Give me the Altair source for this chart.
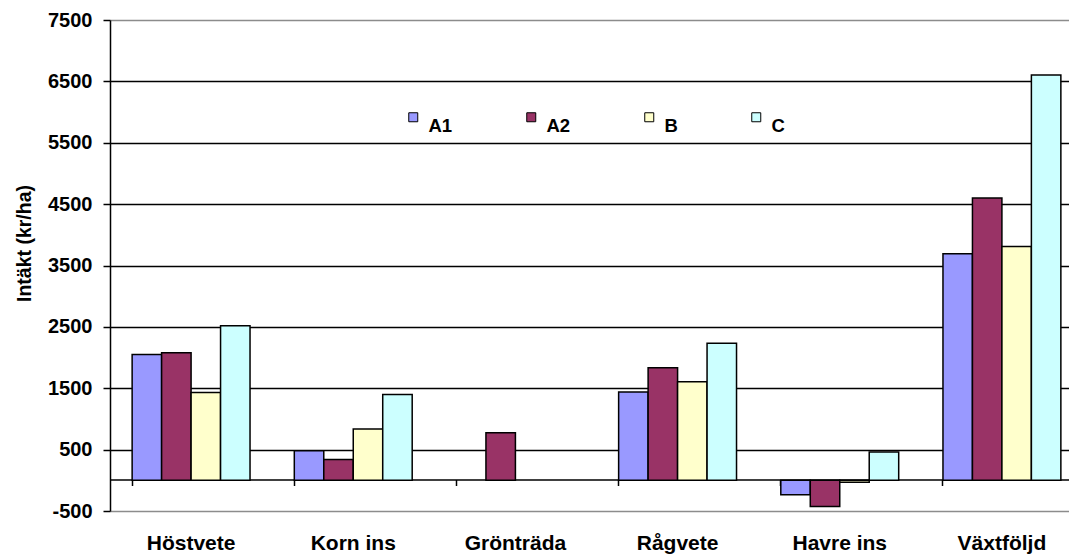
import altair as alt
import pandas as pd

# Revenue per crop for the four cultivation systems (kr/ha)
crops = ["Höstvete", "Korn ins", "Grönträda", "Rågvete", "Havre ins", "Växtföljd"]
series = ["A1", "A2", "B", "C"]
a1 = [2050, 480, None, 1440, -235, 3690]
a2 = [2080, 340, 775, 1835, -425, 4600]
b = [1430, 835, None, 1605, -30, 3810]
c = [2520, 1400, None, 2235, 460, 6605]
colors = ["#9999FF", "#993366", "#FFFFCC", "#CCFFFF"]
y_ticks = [-500, 500, 1500, 2500, 3500, 4500, 5500, 6500, 7500]

rows = []
for name, vals in zip(series, [a1, a2, b, c]):
    for crop, v in zip(crops, vals):
        rows.append({"Gröda": crop, "Serie": name, "Intäkt": v})
df = pd.DataFrame(rows)

FONT = "Liberation Sans"

bars = alt.Chart(df).mark_bar(stroke="black", strokeWidth=1.5).encode(
    x=alt.X(
        "Gröda:N",
        sort=crops,
        scale=alt.Scale(range=[0, 973], paddingInner=0.273, paddingOuter=0.1365),
        axis=alt.Axis(
            title=None,
            labelAngle=0,
            offset=-31.5,
            bandPosition=0,
            ticks=True,
            tickSize=6,
            tickColor="black",
            tickWidth=1.5,
            domainColor="black",
            domainWidth=1.5,
            labelPadding=47,
            labelFont=FONT,
            labelFontSize=21,
            labelFontWeight="bold",
            labelColor="black",
            grid=False,
        ),
    ),
    xOffset=alt.XOffset("Serie:N", sort=series, scale=alt.Scale(paddingInner=0, paddingOuter=0)),
    y=alt.Y(
        "Intäkt:Q",
        scale=alt.Scale(domain=[-500, 7500], nice=False),
        axis=alt.Axis(
            title="Intäkt (kr/ha)",
            values=y_ticks,
            labelExpr="'' + datum.value",
            tickSize=7,
            tickColor="black",
            tickWidth=1.5,
            domainColor="black",
            domainWidth=1.5,
            labelPadding=11,
            labelFont=FONT,
            labelFontSize=20,
            labelFontWeight="bold",
            labelColor="black",
            grid=True,
            gridColor={
                "condition": {"test": "datum.value == -500 || datum.value == 7500", "value": "#8c8c8c"},
                "value": "black",
            },
            gridWidth=1.5,
            titleFont=FONT,
            titleFontSize=19.5,
            titleFontWeight="bold",
            titleColor="black",
            titleAngle=270,
            titleAlign="center",
            titleBaseline="middle",
            titleX=-86,
            titleY=223,
        ),
    ),
    color=alt.Color(
        "Serie:N",
        sort=series,
        scale=alt.Scale(domain=series, range=colors),
        legend=alt.Legend(
            title=None,
            orient="none",
            legendX=294,
            legendY=88,
            direction="horizontal",
            columns=4,
            gridAlign="none",
            columnPadding=69,
            padding=0,
            symbolType="square",
            symbolSize=81,
            symbolStrokeColor="black",
            symbolStrokeWidth=1,
            symbolOpacity=1,
            labelOffset=6,
            labelBaseline="top",
            labelFont=FONT,
            labelFontSize=18.5,
            labelFontWeight="bold",
            labelColor="black",
        ),
    ),
)

chart = bars.properties(
    width=959,
    height=491,
    autosize=alt.AutoSizeParams(type="none"),
    padding={"left": 110, "top": 20, "right": 0, "bottom": 45},
    background="white",
).configure_view(stroke=None)

chart.save("out.html", embed_options={"renderer": "svg", "actions": False})
